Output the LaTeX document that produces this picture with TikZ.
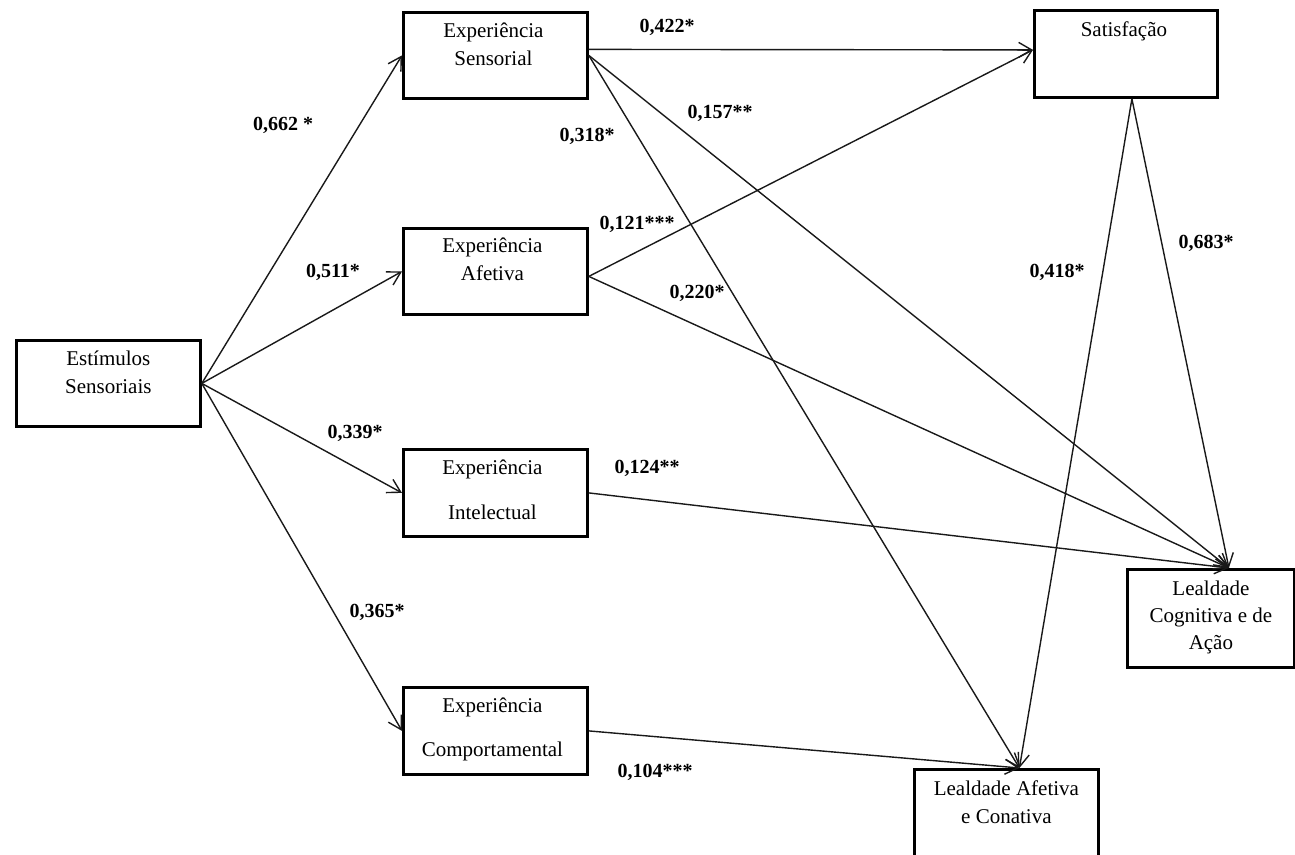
\documentclass[tikz,border=0pt]{standalone}
\usepackage{fontspec}
\setmainfont{Liberation Serif}
\usetikzlibrary{arrows.meta}
\begin{document}
\begin{tikzpicture}[x=1pt,y=-1pt,
  box/.style={draw=black,line width=2.8pt,rectangle,inner sep=0pt},
  boxtext/.style={anchor=north,align=center,inner sep=0pt,
    font=\fontsize{21}{28}\selectfont},
  coef/.style={font=\fontsize{20}{22}\selectfont\bfseries,inner sep=1pt},
  path/.style={draw=black!90,line width=1.4pt,-{Straight Barb[length=13pt,width=15pt,line width=1.4pt]}}
]
\useasboundingbox (0,0) rectangle (1295,854);

% construct boxes (placed by their top left corner)
\node[box,minimum width=184pt,minimum height=86pt,anchor=north west] (estim) at (15,339) {};
\node[box,minimum width=184pt,minimum height=86pt,anchor=north west] (sens)  at (402,11) {};
\node[box,minimum width=184pt,minimum height=86pt,anchor=north west] (afet)  at (402,227) {};
\node[box,minimum width=184pt,minimum height=87pt,anchor=north west] (intel) at (402,448) {};
\node[box,minimum width=184pt,minimum height=87pt,anchor=north west] (comp)  at (402,686) {};
\node[box,minimum width=183pt,minimum height=87pt,anchor=north west] (sat)   at (1033,9) {};
\node[box,minimum width=167pt,minimum height=98pt,anchor=north west] (lcog)  at (1126,568) {};
\node[box,minimum width=184pt,minimum height=100pt,anchor=north west] (lafe) at (913,768) {};

% box labels
\node[boxtext] (estimT) at ([yshift=-12pt]estim.north) {Estímulos\\Sensoriais};
\node[boxtext] (sensT)  at ([xshift=-2pt,yshift=-12pt]sens.north) {Experiência\\Sensorial};
\node[boxtext] (afetT)  at ([xshift=-3pt,yshift=-11pt]afet.north) {Experiência\\Afetiva};
\node[boxtext,font=\fontsize{21}{45}\selectfont] (intelT) at ([xshift=-3pt,yshift=-12pt]intel.north) {Experiência\\Intelectual};
\node[boxtext,font=\fontsize{21}{44}\selectfont] (compT)  at ([xshift=-3pt,yshift=-12pt]comp.north) {Experiência\\Comportamental};
\node[boxtext] (satT)   at ([xshift=-2pt,yshift=-13pt]sat.north) {Satisfação};
\node[boxtext,font=\fontsize{21}{27}\selectfont] (lcogT) at ([yshift=-13pt]lcog.north) {Lealdade\\Cognitiva e de\\Ação};
\node[boxtext] (lafeT)  at ([yshift=-13pt]lafe.north) {Lealdade Afetiva\\e Conativa};

% paths from the stimulus
\draw[path] (estim.east) -- (sens.west);
\draw[path] (estim.east) -- (afet.west);
\draw[path] (estim.east) -- (intel.west);
\draw[path] (estim.east) -- (comp.west);

% paths from the experiences
\draw[path] ([yshift=6pt]sens.east) -- ([yshift=4pt]sat.west);
\draw[path] (sens.east) -- ([xshift=18pt]lcog.north);
\draw[path] (sens.east) -- ([xshift=13pt]lafe.north);
\draw[path] ([yshift=-5pt]afet.east) -- ([yshift=4pt]sat.west);
\draw[path] ([yshift=-5pt]afet.east) -- ([xshift=18pt]lcog.north);
\draw[path] (intel.east) -- ([xshift=18pt]lcog.north);
\draw[path] (comp.east) -- ([xshift=13pt]lafe.north);

% paths from satisfaction
\draw[path] ([xshift=6pt]sat.south) -- ([xshift=18pt]lcog.north);
\draw[path] ([xshift=6pt]sat.south) -- ([xshift=13pt]lafe.north);

% path coefficients
\node[coef] (c1)  at (283,125) {0,662 *};
\node[coef] (c2)  at (333,272) {0,511*};
\node[coef] (c3)  at (355,433) {0,339*};
\node[coef] (c4)  at (377,612) {0,365*};
\node[coef] (c5)  at (667,27)  {0,422*};
\node[coef] (c6)  at (720,113) {0,157**};
\node[coef] (c7)  at (587,136) {0,318*};
\node[coef] (c8)  at (637,224) {0,121***};
\node[coef] (c9)  at (697,293) {0,220*};
\node[coef] (c10) at (647,468) {0,124**};
\node[coef] (c11) at (655,772) {0,104***};
\node[coef] (c12) at (1057,272) {0,418*};
\node[coef] (c13) at (1206,243) {0,683*};
\end{tikzpicture}
\end{document}
